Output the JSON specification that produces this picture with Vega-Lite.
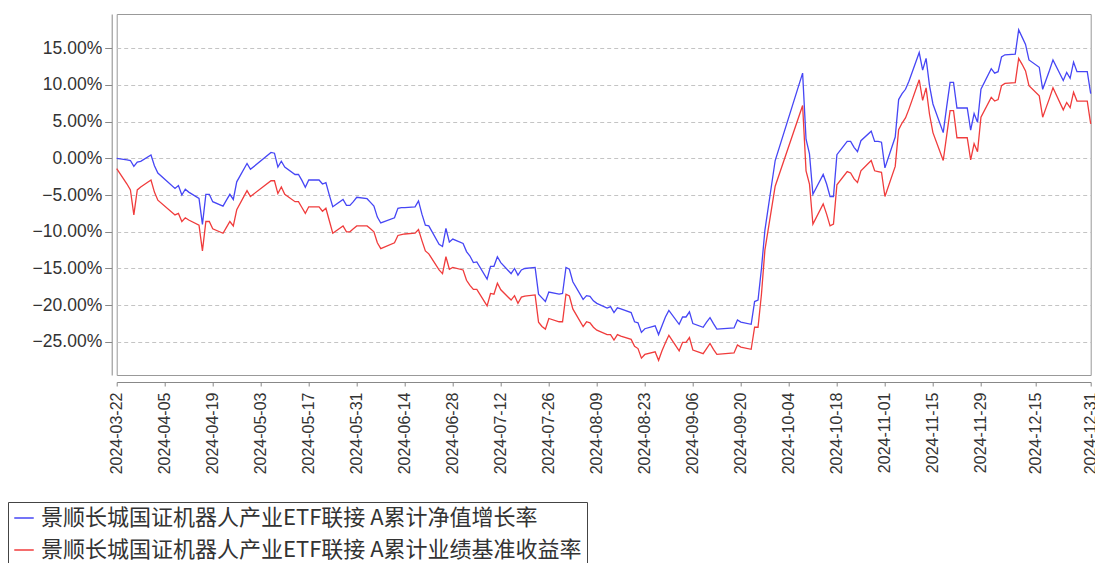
{
"$schema": "https://vega.github.io/schema/vega-lite/v6.json",
"width": 974, "height": 361,
"autosize": {"type": "none"},
"padding": {"left": 116.7, "top": 14, "right": 4.3, "bottom": 188},
"background": "white",
"config": {"view": {"stroke": "#999", "strokeWidth": 1}},
"data": {"values": [
{"date":"2024-03-22","净值":0.0,"基准":-1.4},
{"date":"2024-03-25","净值":-0.2,"基准":-3.5},
{"date":"2024-03-26","净值":-0.3,"基准":-4.3},
{"date":"2024-03-27","净值":-1.1,"基准":-7.7},
{"date":"2024-03-28","净值":-0.5,"基准":-4.3},
{"date":"2024-03-29","净值":-0.4,"基准":-3.9},
{"date":"2024-04-01","净值":0.45,"基准":-2.95},
{"date":"2024-04-02","净值":-1.0,"基准":-4.6},
{"date":"2024-04-03","净值":-2.0,"基准":-5.7},
{"date":"2024-04-08","净值":-4.1,"基准":-7.7},
{"date":"2024-04-09","净值":-3.7,"基准":-7.5},
{"date":"2024-04-10","净值":-5.0,"基准":-8.6},
{"date":"2024-04-11","净值":-4.2,"基准":-8.1},
{"date":"2024-04-12","净值":-4.6,"基准":-8.4},
{"date":"2024-04-15","净值":-5.45,"基准":-9.1},
{"date":"2024-04-16","净值":-9.0,"基准":-12.6},
{"date":"2024-04-17","净值":-4.9,"基准":-8.6},
{"date":"2024-04-18","净值":-4.9,"基准":-8.6},
{"date":"2024-04-19","净值":-5.9,"基准":-9.6},
{"date":"2024-04-22","净值":-6.5,"基准":-10.2},
{"date":"2024-04-23","净值":-5.7,"基准":-9.4},
{"date":"2024-04-24","净值":-4.9,"基准":-8.6},
{"date":"2024-04-25","净值":-5.6,"基准":-9.2},
{"date":"2024-04-26","净值":-3.2,"基准":-7.0},
{"date":"2024-04-29","净值":-0.7,"基准":-4.4},
{"date":"2024-04-30","净值":-1.5,"基准":-5.2},
{"date":"2024-05-06","净值":0.8,"基准":-3.05},
{"date":"2024-05-07","净值":0.7,"基准":-3.05},
{"date":"2024-05-08","净值":-1.2,"基准":-4.8},
{"date":"2024-05-09","净值":-0.4,"基准":-3.9},
{"date":"2024-05-10","净值":-1.2,"基准":-4.9},
{"date":"2024-05-13","净值":-2.2,"基准":-5.9},
{"date":"2024-05-14","净值":-2.2,"基准":-5.9},
{"date":"2024-05-15","净值":-3.0,"基准":-6.7},
{"date":"2024-05-16","净值":-3.95,"基准":-7.5},
{"date":"2024-05-17","净值":-2.95,"基准":-6.6},
{"date":"2024-05-20","净值":-2.95,"基准":-6.6},
{"date":"2024-05-21","净值":-3.5,"基准":-7.2},
{"date":"2024-05-22","净值":-3.3,"基准":-6.8},
{"date":"2024-05-23","净值":-5.0,"基准":-8.5},
{"date":"2024-05-24","净值":-6.6,"基准":-10.2},
{"date":"2024-05-27","净值":-5.6,"基准":-9.2},
{"date":"2024-05-28","净值":-6.4,"基准":-10.0},
{"date":"2024-05-29","净值":-6.4,"基准":-10.0},
{"date":"2024-05-30","净值":-5.9,"基准":-9.6},
{"date":"2024-05-31","净值":-5.3,"基准":-9.2},
{"date":"2024-06-03","净值":-5.5,"基准":-9.2},
{"date":"2024-06-04","净值":-6.0,"基准":-9.6},
{"date":"2024-06-05","净值":-6.5,"基准":-10.0},
{"date":"2024-06-06","净值":-8.0,"基准":-11.5},
{"date":"2024-06-07","净值":-8.8,"基准":-12.3},
{"date":"2024-06-11","净值":-8.1,"基准":-11.5},
{"date":"2024-06-12","净值":-6.8,"基准":-10.5},
{"date":"2024-06-13","净值":-6.7,"基准":-10.4},
{"date":"2024-06-14","净值":-6.7,"基准":-10.3},
{"date":"2024-06-17","净值":-6.6,"基准":-10.2},
{"date":"2024-06-18","净值":-5.8,"基准":-9.7},
{"date":"2024-06-19","净值":-7.6,"基准":-11.2},
{"date":"2024-06-20","净值":-9.1,"基准":-12.6},
{"date":"2024-06-21","净值":-9.2,"基准":-13.0},
{"date":"2024-06-24","净值":-11.7,"基准":-15.2},
{"date":"2024-06-25","净值":-12.0,"基准":-15.7},
{"date":"2024-06-26","净值":-9.55,"基准":-13.4},
{"date":"2024-06-27","净值":-11.4,"基准":-15.1},
{"date":"2024-06-28","净值":-11.0,"基准":-14.85},
{"date":"2024-07-01","净值":-11.6,"基准":-15.2},
{"date":"2024-07-02","净值":-12.7,"基准":-16.6},
{"date":"2024-07-03","净值":-13.3,"基准":-17.3},
{"date":"2024-07-04","净值":-14.2,"基准":-17.85},
{"date":"2024-07-05","净值":-14.1,"基准":-17.85},
{"date":"2024-07-08","净值":-16.45,"基准":-20.1},
{"date":"2024-07-09","净值":-14.7,"基准":-18.4},
{"date":"2024-07-10","净值":-14.7,"基准":-18.5},
{"date":"2024-07-11","净值":-13.4,"基准":-17.0},
{"date":"2024-07-12","净值":-14.2,"基准":-17.9},
{"date":"2024-07-15","净值":-15.7,"基准":-19.3},
{"date":"2024-07-16","净值":-15.0,"基准":-18.7},
{"date":"2024-07-17","净值":-15.9,"基准":-19.75},
{"date":"2024-07-18","净值":-15.2,"基准":-18.9},
{"date":"2024-07-19","净值":-15.0,"基准":-18.75},
{"date":"2024-07-22","净值":-14.85,"基准":-18.6},
{"date":"2024-07-23","净值":-18.5,"基准":-22.3},
{"date":"2024-07-24","净值":-19.0,"基准":-22.9},
{"date":"2024-07-25","净值":-19.5,"基准":-23.25},
{"date":"2024-07-26","净值":-18.2,"基准":-21.8},
{"date":"2024-07-29","净值":-18.5,"基准":-22.25},
{"date":"2024-07-30","净值":-18.4,"基准":-22.25},
{"date":"2024-07-31","净值":-14.85,"基准":-18.5},
{"date":"2024-08-01","净值":-15.1,"基准":-18.75},
{"date":"2024-08-02","净值":-16.8,"基准":-20.5},
{"date":"2024-08-05","净值":-19.2,"基准":-22.9},
{"date":"2024-08-06","净值":-18.7,"基准":-22.25},
{"date":"2024-08-07","净值":-18.8,"基准":-22.4},
{"date":"2024-08-08","净值":-19.4,"基准":-23.0},
{"date":"2024-08-09","净值":-19.75,"基准":-23.4},
{"date":"2024-08-12","净值":-20.4,"基准":-24.0},
{"date":"2024-08-13","净值":-20.2,"基准":-24.0},
{"date":"2024-08-14","净值":-21.0,"基准":-24.75},
{"date":"2024-08-15","净值":-20.35,"基准":-24.0},
{"date":"2024-08-16","净值":-20.5,"基准":-24.2},
{"date":"2024-08-19","净值":-21.0,"基准":-24.65},
{"date":"2024-08-20","净值":-22.25,"基准":-25.6},
{"date":"2024-08-21","净值":-22.4,"基准":-25.9},
{"date":"2024-08-22","净值":-23.7,"基准":-27.2},
{"date":"2024-08-23","净值":-23.2,"基准":-26.7},
{"date":"2024-08-26","净值":-22.8,"基准":-26.35},
{"date":"2024-08-27","净值":-24.0,"基准":-27.5},
{"date":"2024-08-28","净值":-22.8,"基准":-26.2},
{"date":"2024-08-29","净值":-21.6,"基准":-25.1},
{"date":"2024-08-30","净值":-20.7,"基准":-24.1},
{"date":"2024-09-02","净值":-22.6,"基准":-26.2},
{"date":"2024-09-03","净值":-21.6,"基准":-25.05},
{"date":"2024-09-04","净值":-21.6,"基准":-25.05},
{"date":"2024-09-05","净值":-20.9,"基准":-24.4},
{"date":"2024-09-06","净值":-22.5,"基准":-26.1},
{"date":"2024-09-09","净值":-23.0,"基准":-26.6},
{"date":"2024-09-10","净值":-22.3,"基准":-25.9},
{"date":"2024-09-11","净值":-21.7,"基准":-25.2},
{"date":"2024-09-12","净值":-22.5,"基准":-26.0},
{"date":"2024-09-13","净值":-23.25,"基准":-26.7},
{"date":"2024-09-18","净值":-23.1,"基准":-26.5},
{"date":"2024-09-19","净值":-22.0,"基准":-25.4},
{"date":"2024-09-20","净值":-22.3,"基准":-25.7},
{"date":"2024-09-23","净值":-22.6,"基准":-26.0},
{"date":"2024-09-24","净值":-19.5,"基准":-23.0},
{"date":"2024-09-25","净值":-19.3,"基准":-23.0},
{"date":"2024-09-26","净值":-15.0,"基准":-18.5},
{"date":"2024-09-27","净值":-9.8,"基准":-12.5},
{"date":"2024-09-30","净值":-0.3,"基准":-3.8},
{"date":"2024-10-08","净值":11.6,"基准":7.2},
{"date":"2024-10-09","净值":2.6,"基准":-1.7},
{"date":"2024-10-10","净值":0.6,"基准":-3.5},
{"date":"2024-10-11","净值":-4.9,"基准":-8.95},
{"date":"2024-10-14","净值":-2.2,"基准":-6.2},
{"date":"2024-10-15","净值":-3.5,"基准":-7.6},
{"date":"2024-10-16","净值":-5.2,"基准":-9.2},
{"date":"2024-10-17","净值":-5.2,"基准":-8.95},
{"date":"2024-10-18","净值":0.5,"基准":-3.6},
{"date":"2024-10-21","净值":2.3,"基准":-1.8},
{"date":"2024-10-22","净值":2.3,"基准":-2.0},
{"date":"2024-10-23","净值":1.5,"基准":-2.8},
{"date":"2024-10-24","净值":0.9,"基准":-3.3},
{"date":"2024-10-25","净值":2.4,"基准":-1.7},
{"date":"2024-10-28","净值":3.7,"基准":-0.3},
{"date":"2024-10-29","净值":2.3,"基准":-1.7},
{"date":"2024-10-30","净值":2.3,"基准":-1.8},
{"date":"2024-10-31","净值":2.2,"基准":-1.9},
{"date":"2024-11-01","净值":-1.3,"基准":-5.2},
{"date":"2024-11-04","净值":2.9,"基准":-1.1},
{"date":"2024-11-05","净值":8.0,"基准":3.9},
{"date":"2024-11-06","净值":8.8,"基准":4.8},
{"date":"2024-11-07","净值":9.4,"基准":5.5},
{"date":"2024-11-08","净值":10.5,"基准":6.7},
{"date":"2024-11-11","净值":14.4,"基准":10.7},
{"date":"2024-11-12","净值":12.0,"基准":7.9},
{"date":"2024-11-13","净值":13.6,"基准":9.6},
{"date":"2024-11-14","净值":9.9,"基准":6.0},
{"date":"2024-11-15","净值":7.4,"基准":3.5},
{"date":"2024-11-18","净值":3.5,"基准":-0.3},
{"date":"2024-11-19","净值":7.0,"基准":3.1},
{"date":"2024-11-20","净值":10.35,"基准":6.5},
{"date":"2024-11-21","净值":10.35,"基准":6.5},
{"date":"2024-11-22","净值":6.85,"基准":2.8},
{"date":"2024-11-25","净值":6.85,"基准":2.8},
{"date":"2024-11-26","净值":3.85,"基准":-0.2},
{"date":"2024-11-27","净值":6.1,"基准":2.0},
{"date":"2024-11-28","净值":4.9,"基准":0.9},
{"date":"2024-11-29","净值":9.4,"基准":5.6},
{"date":"2024-12-02","净值":12.2,"基准":8.3},
{"date":"2024-12-03","净值":11.6,"基准":7.8},
{"date":"2024-12-04","净值":11.8,"基准":8.0},
{"date":"2024-12-05","净值":13.8,"基准":9.9},
{"date":"2024-12-06","净值":14.1,"基准":10.2},
{"date":"2024-12-09","净值":14.2,"基准":10.3},
{"date":"2024-12-10","净值":17.5,"基准":13.6},
{"date":"2024-12-11","净值":16.5,"基准":12.8},
{"date":"2024-12-12","净值":15.5,"基准":11.9},
{"date":"2024-12-13","净值":13.4,"基准":9.9},
{"date":"2024-12-16","净值":12.4,"基准":8.5},
{"date":"2024-12-17","净值":9.4,"基准":5.6},
{"date":"2024-12-18","净值":10.7,"基准":6.9},
{"date":"2024-12-19","净值":12.0,"基准":8.2},
{"date":"2024-12-20","净值":13.4,"基准":9.6},
{"date":"2024-12-23","净值":10.6,"基准":6.6},
{"date":"2024-12-24","净值":11.7,"基准":7.6},
{"date":"2024-12-25","净值":10.9,"基准":6.9},
{"date":"2024-12-26","净值":13.1,"基准":9.0},
{"date":"2024-12-27","净值":11.8,"基准":7.8},
{"date":"2024-12-30","净值":11.8,"基准":7.8},
{"date":"2024-12-31","净值":8.8,"基准":4.7}
]},
"transform": [{"fold": ["净值", "基准"], "as": ["key", "value"]}],
"mark": {"type": "line", "strokeWidth": 1.3, "interpolate": "linear"},
"encoding": {
  "x": {"field": "date", "type": "temporal", "title": null,
    "scale": {"type": "utc", "domain": [{"year": 2024, "month": 3, "date": 22, "utc": true}, {"year": 2024, "month": 12, "date": 31, "utc": true}]},
    "axis": {"values": [
      {"year":2024,"month":3,"date":22,"utc":true},{"year":2024,"month":4,"date":5,"utc":true},{"year":2024,"month":4,"date":19,"utc":true},
      {"year":2024,"month":5,"date":3,"utc":true},{"year":2024,"month":5,"date":17,"utc":true},{"year":2024,"month":5,"date":31,"utc":true},
      {"year":2024,"month":6,"date":14,"utc":true},{"year":2024,"month":6,"date":28,"utc":true},{"year":2024,"month":7,"date":12,"utc":true},
      {"year":2024,"month":7,"date":26,"utc":true},{"year":2024,"month":8,"date":9,"utc":true},{"year":2024,"month":8,"date":23,"utc":true},
      {"year":2024,"month":9,"date":6,"utc":true},{"year":2024,"month":9,"date":20,"utc":true},{"year":2024,"month":10,"date":4,"utc":true},
      {"year":2024,"month":10,"date":18,"utc":true},{"year":2024,"month":11,"date":1,"utc":true},{"year":2024,"month":11,"date":15,"utc":true},
      {"year":2024,"month":11,"date":29,"utc":true},{"year":2024,"month":12,"date":15,"utc":true},{"year":2024,"month":12,"date":31,"utc":true}],
      "format": "%Y-%m-%d", "labelAngle": -90, "offset": 7, "grid": false, "tickSize": 4,
      "domainColor": "#888", "tickColor": "#888", "labelColor": "#333", "labelFont": "Liberation Sans", "labelFontSize": 16,
      "labelPadding": 6, "labelOverlap": false, "labelFlush": false, "labelBound": false}},
  "y": {"field": "value", "type": "quantitative", "title": null,
    "scale": {"domain": [-29.5, 19.65], "nice": false, "zero": false},
    "axis": {"values": [-25, -20, -15, -10, -5, 0, 5, 10, 15], "labelExpr": "replace(format(datum.value, '.2f'), '-', '−') + '%'",
      "offset": 5, "grid": true, "gridDash": [4, 3], "gridColor": "#c4c4c4", "tickSize": 7,
      "domainColor": "#888", "tickColor": "#888", "labelColor": "#333", "labelFont": "Liberation Sans", "labelFontSize": 17.5, "labelPadding": 3}},
  "color": {"field": "key", "type": "nominal",
    "scale": {"domain": ["净值", "基准"], "range": ["#4646f5", "#f03c3c"]},
    "legend": {"orient": "none", "legendX": -108.7, "legendY": 488, "title": null, "strokeColor": "#444", "fillColor": "white", "padding": 5,
      "symbolType": "stroke", "symbolSize": 380, "symbolStrokeWidth": 1.5, "labelFont": "Noto Sans CJK SC", "labelFontSize": 22, "labelColor": "#333",
      "labelLimit": 1000, "rowPadding": 10, "labelOffset": 6,
      "labelExpr": "datum.label == '净值' ? '景顺长城国证机器人产业ETF联接 A累计净值增长率' : '景顺长城国证机器人产业ETF联接 A累计业绩基准收益率'"}}
}
}
